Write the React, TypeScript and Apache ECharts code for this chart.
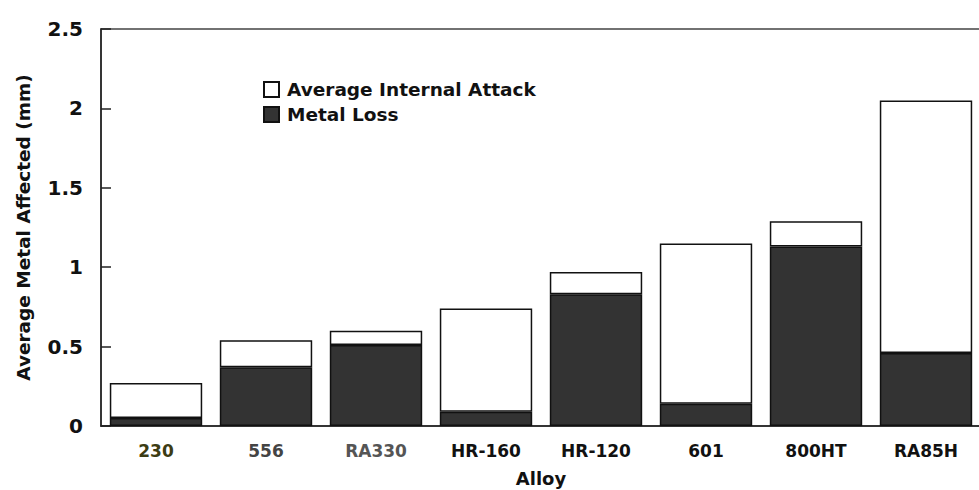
import React, { useEffect, useRef } from "react";
import * as echarts from "echarts";

const categories = ["230", "556", "RA330", "HR-160", "HR-120", "601", "800HT", "RA85H"];
const metalLoss = [0.05, 0.37, 0.51, 0.09, 0.83, 0.14, 1.13, 0.46];
const internalAttack = [0.22, 0.17, 0.09, 0.65, 0.14, 1.01, 0.16, 1.59];
const labelColors = ["#3c3c14", "#444444", "#555555", "#111111", "#111111", "#111111", "#111111", "#111111"];

export default function App() {
  const ref = useRef<HTMLDivElement>(null);
  useEffect(() => {
    if (!ref.current) return;
    const chart = echarts.init(ref.current, undefined, { renderer: "svg" });
    const font = "DejaVu Sans, Liberation Sans, Arial, sans-serif";
    chart.setOption({
      animation: false,
      backgroundColor: "#ffffff",
      textStyle: { fontFamily: font },
      grid: {
        left: 101,
        top: 29,
        width: 880,
        height: 397,
        containLabel: false,
        outerBoundsMode: "none",
        show: true,
        borderColor: "#444444",
        borderWidth: 1.5,
        backgroundColor: "transparent",
      },
      legend: {
        orient: "vertical",
        left: 258,
        top: 75,
        itemWidth: 15,
        itemHeight: 15,
        itemGap: 6,
        icon: "rect",
        textStyle: {
          fontSize: 18.5,
          fontWeight: "bold",
          color: "#111",
          fontFamily: font,
          padding: [0, 0, 0, 3],
        },
        data: ["Average Internal Attack", "Metal Loss"],
      },
      xAxis: {
        type: "category",
        data: categories,
        name: "Alloy",
        nameLocation: "middle",
        nameGap: 43,
        nameTextStyle: { fontSize: 18, fontWeight: "bold", color: "#111", fontFamily: font },
        axisLine: { lineStyle: { color: "#222", width: 1.5 } },
        axisTick: { show: false },
        axisLabel: {
          margin: 16,
          fontSize: 17,
          fontWeight: "bold",
          fontFamily: font,
          color: (_v: string, i: number) => labelColors[i],
        },
      },
      yAxis: {
        type: "value",
        min: 0,
        max: 2.5,
        interval: 0.5,
        name: "Average Metal Affected (mm)",
        nameLocation: "middle",
        nameGap: 68,
        nameRotate: 90,
        nameTextStyle: { fontSize: 18.5, fontWeight: "bold", color: "#111", fontFamily: font },
        axisLine: { show: true, lineStyle: { color: "#222", width: 1.5 } },
        axisTick: { show: true, inside: true, length: 10, lineStyle: { color: "#222", width: 1.5 } },
        splitLine: { show: false },
        axisLabel: { margin: 18, fontSize: 20, fontWeight: "bold", color: "#111", fontFamily: font },
      },
      series: [
        {
          name: "Metal Loss",
          type: "bar",
          stack: "total",
          data: metalLoss,
          barCategoryGap: "16%",
          itemStyle: { color: "#333333", borderColor: "#111", borderWidth: 1.5 },
        },
        {
          name: "Average Internal Attack",
          type: "bar",
          stack: "total",
          data: internalAttack,
          barCategoryGap: "16%",
          itemStyle: { color: "#ffffff", borderColor: "#111", borderWidth: 1.5 },
        },
      ],
    });
    return () => chart.dispose();
  }, []);
  return (
    <div style={{ position: "absolute", left: 0, top: 0, width: 979, height: 490, overflow: "hidden" }}>
      <div ref={ref} style={{ width: 1000, height: 490 }} />
    </div>
  );
}
